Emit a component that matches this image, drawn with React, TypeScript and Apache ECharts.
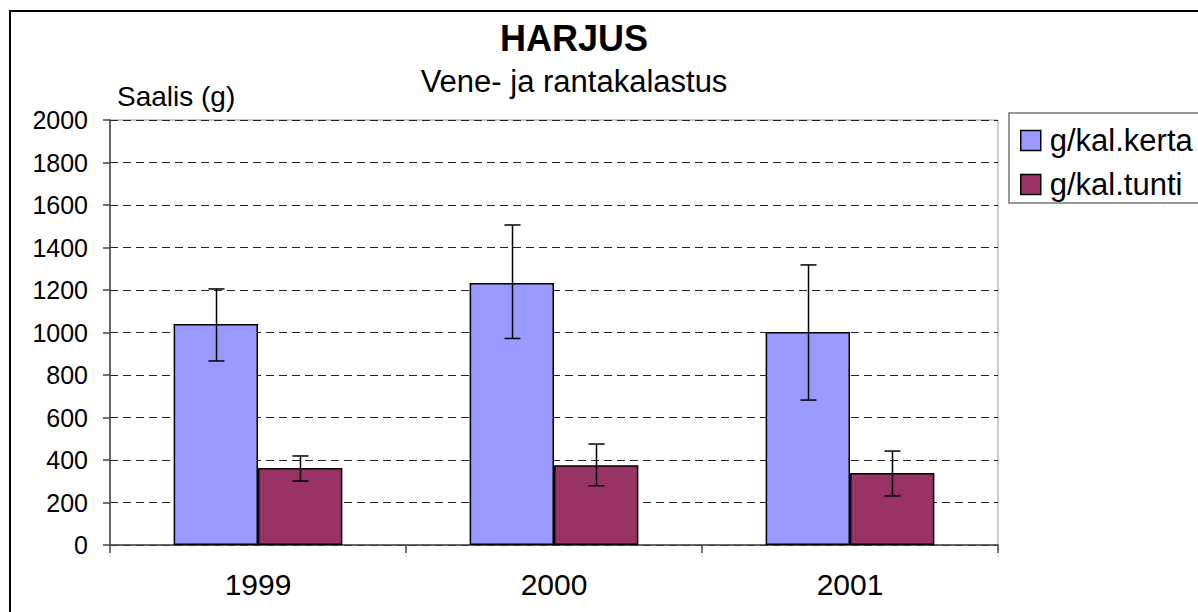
import React, { useEffect, useRef } from "react";
import * as echarts from "echarts";

const years = ["1999", "2000", "2001"];
const keskiKerta = [1040, 1233, 1002];
const kertaLow = [866, 972, 682];
const kertaHigh = [1205, 1506, 1318];
const keskiTunti = [362, 375, 339];
const tuntiLow = [301, 279, 231];
const tuntiHigh = [419, 475, 442];
const yTicks = { min: 0, max: 2000, interval: 200 };

const CAT_GAP = 0.43;
const FONT = "Liberation Sans, Arial, sans-serif";

function errorSeries(name: string, low: number[], high: number[], side: number) {
  return {
    name: name + "-err",
    type: "custom",
    z: 10,
    silent: true,
    data: years.map((_, i) => [i, low[i], high[i]]),
    encode: { x: 0, y: [1, 2] },
    renderItem: (params: any, api: any) => {
      const i = api.value(0);
      const lo = api.coord([i, api.value(1)]);
      const hi = api.coord([i, api.value(2)]);
      const catW = api.size([1, 0])[0];
      const barW = (catW * (1 - CAT_GAP)) / 2;
      const x = Math.round(lo[0] + (side * barW) / 2) + 0.5;
      const cap = 8;
      const style = { stroke: "#000", lineWidth: 1.5 };
      return {
        type: "group",
        children: [
          { type: "line", shape: { x1: x, y1: lo[1], x2: x, y2: hi[1] }, style },
          { type: "line", shape: { x1: x - cap, y1: lo[1], x2: x + cap, y2: lo[1] }, style },
          { type: "line", shape: { x1: x - cap, y1: hi[1], x2: x + cap, y2: hi[1] }, style },
        ],
      };
    },
  };
}

export default function App() {
  const ref = useRef<HTMLDivElement>(null);
  useEffect(() => {
    document.body.style.margin = "0";
    const chart = echarts.init(ref.current!, null, { renderer: "svg" });
    chart.setOption({
      animation: false,
      backgroundColor: "#fff",
      textStyle: { fontFamily: FONT },
      title: {
        text: "HARJUS",
        subtext: "Vene- ja rantakalastus",
        left: 574,
        textAlign: "center",
        top: 20,
        padding: 0,
        itemGap: 10,
        textStyle: { fontFamily: FONT, fontSize: 36, fontWeight: "bold", color: "#000" },
        subtextStyle: { fontFamily: FONT, fontSize: 31, color: "#000" },
      },
      legend: {
        left: 1009,
        top: 113,
        orient: "vertical",
        icon: "rect",
        itemWidth: 20,
        itemHeight: 20,
        itemGap: 13,
        padding: [12, 10, 3, 11],
        borderColor: "#777",
        borderWidth: 1.5,
        borderRadius: 0,
        data: ["g/kal.kerta", "g/kal.tunti"],
        textStyle: { fontFamily: FONT, fontSize: 31, color: "#000", padding: [0, 0, 0, 4] },
        itemStyle: { borderColor: "#000", borderWidth: 1.5 },
      },
      grid: {
        left: 110,
        top: 120,
        right: 200,
        bottom: 67,
        show: true,
        borderColor: "#999",
        borderWidth: 1,
        containLabel: false,
      },
      xAxis: {
        type: "category",
        data: years,
        axisLine: { lineStyle: { color: "#444", width: 1.5 } },
        axisTick: { show: true, length: 8, inside: false, lineStyle: { color: "#444", width: 1.5 } },
        axisLabel: { fontFamily: FONT, fontSize: 30, color: "#000", margin: 24 },
      },
      yAxis: {
        type: "value",
        min: yTicks.min,
        max: yTicks.max,
        interval: yTicks.interval,
        axisLine: { show: true, lineStyle: { color: "#444", width: 1.5 } },
        axisTick: { show: true, length: 7, lineStyle: { color: "#444", width: 1.5 } },
        axisLabel: {
          fontFamily: FONT,
          fontSize: 25,
          color: "#000",
          margin: 22,
          formatter: (v: number) => String(v),
        },
        splitLine: { show: true, lineStyle: { color: "#222", width: 1, type: [8, 5] } },
      },
      graphic: [
        {
          type: "rect",
          shape: { x: 10, y: 11, width: 1400, height: 800 },
          style: { fill: "none", stroke: "#000", lineWidth: 2 },
          z: 100,
          silent: true,
        },
        {
          type: "text",
          left: 117,
          top: 82,
          style: { text: "Saalis (g)", fontFamily: FONT, fontSize: 28, fill: "#000" },
        },
      ],
      series: [
        {
          name: "g/kal.kerta",
          type: "bar",
          data: keskiKerta,
          barGap: "0%",
          barCategoryGap: CAT_GAP * 100 + "%",
          itemStyle: { color: "#9999FF", borderColor: "#000", borderWidth: 1.5 },
        },
        {
          name: "g/kal.tunti",
          type: "bar",
          data: keskiTunti,
          barGap: "0%",
          barCategoryGap: CAT_GAP * 100 + "%",
          itemStyle: { color: "#993366", borderColor: "#000", borderWidth: 1.5 },
        },
        errorSeries("g/kal.kerta", kertaLow, kertaHigh, -1),
        errorSeries("g/kal.tunti", tuntiLow, tuntiHigh, 1),
      ],
    });
    return () => chart.dispose();
  }, []);
  return <div ref={ref} style={{ width: 1198, height: 612 }} />;
}
